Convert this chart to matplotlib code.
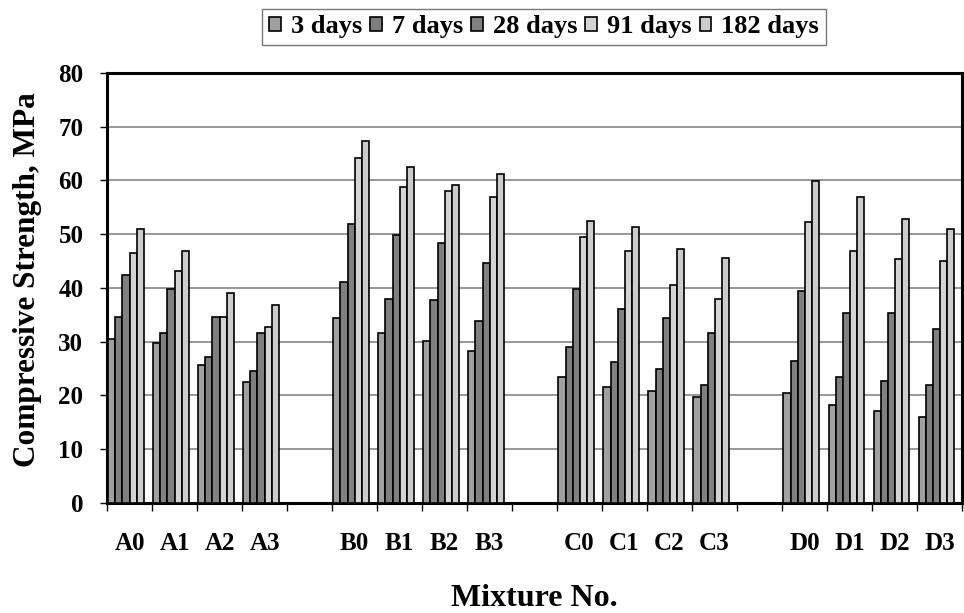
import numpy as np
import matplotlib.pyplot as plt
from matplotlib.ticker import MultipleLocator, FixedLocator

# Dane
mixtures = ['A0', 'A1', 'A2', 'A3', 'B0', 'B1', 'B2', 'B3',
            'C0', 'C1', 'C2', 'C3', 'D0', 'D1', 'D2', 'D3']
positions = [0, 1, 2, 3, 5, 6, 7, 8, 10, 11, 12, 13, 15, 16, 17, 18]

days_3 = [30.4, 29.8, 25.7, 22.4, 34.3, 31.6, 30.1, 28.3,
          23.4, 21.5, 20.8, 19.7, 20.5, 18.2, 17.1, 15.9]
days_7 = [34.6, 31.6, 27.2, 24.5, 41.0, 38.0, 37.7, 33.8,
          29.0, 26.1, 24.9, 21.9, 26.4, 23.4, 22.7, 21.9]
days_28 = [42.4, 39.8, 34.6, 31.6, 51.8, 49.9, 48.4, 44.7,
           39.8, 36.1, 34.3, 31.6, 39.4, 35.3, 35.3, 32.4]
days_91 = [46.5, 43.2, 34.6, 32.7, 64.1, 58.8, 58.1, 56.9,
           49.5, 46.9, 40.6, 38.0, 52.2, 46.9, 45.3, 45.0]
days_182 = [50.9, 46.9, 39.1, 36.8, 67.4, 62.5, 59.2, 61.1,
            52.5, 51.3, 47.3, 45.6, 59.8, 56.9, 52.8, 50.9]

series = [('3 days', days_3, '#A0A0A0'),
          ('7 days', days_7, '#808080'),
          ('28 days', days_28, '#808080'),
          ('91 days', days_91, '#D4D4D4'),
          ('182 days', days_182, '#CCCCCC')]


def main():
    plt.rcParams['font.family'] = ['Liberation Serif', 'DejaVu Serif']
    plt.rcParams['font.weight'] = 'bold'

    fig = plt.figure(figsize=(9.64, 6.13), dpi=100)
    ax = fig.add_axes([0.111, 0.180, 0.887, 0.701])

    x = np.array(positions, dtype=float)
    w = 0.156
    for i, (name, vals, col) in enumerate(series):
        ax.bar(x + (i - 2.5) * w, vals, width=w, color=col,
               edgecolor='black', linewidth=1.2, label=name, zorder=3)

    ax.set_xlim(-0.5, 18.5)
    ax.set_ylim(0, 80)
    ax.yaxis.set_major_locator(MultipleLocator(10))
    ax.grid(axis='y', color='#7a7a7a', linewidth=1.1, zorder=0)

    ax.set_xticks(positions)
    ax.set_xticklabels(mixtures, fontsize=18, fontweight='bold')
    ax.xaxis.set_minor_locator(FixedLocator(np.arange(-0.5, 19.0, 1.0)))
    ax.tick_params(axis='x', which='major', length=0, pad=21)
    ax.tick_params(axis='x', which='minor', length=6, width=1, direction='out')
    ax.tick_params(axis='y', labelsize=18, length=5, width=1, direction='out', pad=12)
    for lab in ax.get_yticklabels():
        lab.set_fontweight('bold')

    for sp in ax.spines.values():
        sp.set_linewidth(2.2)
        sp.set_color('black')

    ax.set_ylabel('Compressive Strength, MPa', fontsize=22.5, fontweight='bold')
    ax.yaxis.set_label_coords(-0.076, 0.52)
    ax.set_xlabel('Mixture No.', fontsize=23, fontweight='bold', labelpad=21)

    leg = ax.legend(loc='lower center', bbox_to_anchor=(0.511, 1.065), ncol=5,
                    frameon=True, fancybox=False, edgecolor='#555555',
                    prop={'size': 19, 'weight': 'bold'},
                    handlelength=0.45, handleheight=0.45, handletextpad=0.38,
                    columnspacing=0.3, borderpad=0.25, borderaxespad=0)
    leg.get_frame().set_linewidth(1.0)

    fig.savefig('out.png', dpi=100)


if __name__ == "__main__":
    main()
